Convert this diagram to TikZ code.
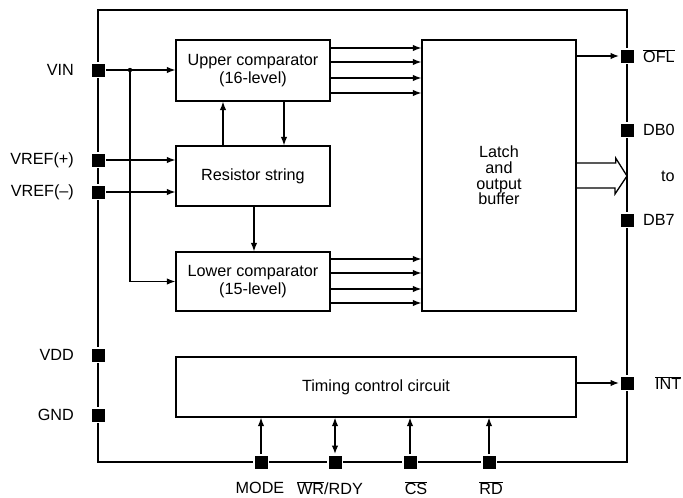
\documentclass[tikz,border=0pt]{standalone}
\usepackage{fontspec}
\setmainfont{Liberation Sans}
\usetikzlibrary{arrows.meta,calc}
\newcommand{\ovl}[1]{$\overline{\hbox{#1}}$}
\begin{document}
\begin{tikzpicture}[x=1pt,y=-1pt,
  every node/.style={font=\fontsize{16.2}{17.5}\selectfont},
  blk/.style={draw,line width=1.3pt,inner sep=0pt,align=center},
  pin/.style={rectangle,fill=black,draw=white,line width=1.5pt,minimum size=14.5pt,inner sep=0pt},
  arr/.style={line width=1.3pt,-{Latex[length=8.5pt,width=6.5pt]}},
  darr/.style={line width=1.3pt,{Latex[length=8.5pt,width=6.5pt]}-{Latex[length=8.5pt,width=6.5pt]}},
  frame/.style={line width=1.8pt},
  lab/.style={inner sep=0pt}]
\useasboundingbox (0,0) rectangle (683,498);
% outer frame
\coordinate (tl) at (98,10);
\coordinate (br) at (627,462);
\draw[frame] (tl) rectangle (br);
% blocks
\node[blk,minimum width=154pt,minimum height=61pt] (up) at (253,70.5) {Upper comparator\\(16-level)};
\node[blk,minimum width=154pt,minimum height=60pt] (res) at (253,176) {Resistor string};
\node[blk,minimum width=154pt,minimum height=59pt] (low) at (253,281.5) {Lower comparator\\(15-level)};
\node[blk,minimum width=154pt,minimum height=271pt,font=\fontsize{16.2}{15.8}\selectfont] (lat) at (499,175.5) {Latch\\and\\output\\buffer};
\node[blk,minimum width=400pt,minimum height=60pt] (tim) at (376,387) {Timing control circuit};
% pins
\node[pin] (vin) at (98,70) {};
\node[pin] (vrp) at (98,160) {};
\node[pin] (vrm) at (98,192) {};
\node[pin] (vdd) at (98,355) {};
\node[pin] (gnd) at (98,415) {};
\node[pin] (ofl) at (627,56) {};
\node[pin] (db0) at (627,130) {};
\node[pin] (db7) at (627,220) {};
\node[pin] (int) at (627,383) {};
\node[pin] (mode) at (261,462) {};
\node[pin] (wr) at (335,462) {};
\node[pin] (cs) at (410,462) {};
\node[pin] (rd) at (489,462) {};
% labels
\node[lab,anchor=east] at (74,70) {VIN};
\node[lab,anchor=east] at (74,160) {VREF(+)};
\node[lab,anchor=east] at (74,192) {VREF(--)};
\node[lab,anchor=east] at (74,355) {VDD};
\node[lab,anchor=east] at (74,415) {GND};
\node[lab,anchor=west] at (643,56) {\ovl{OFL}};
\node[lab,anchor=west] at (643,130) {DB0};
\node[lab,anchor=west] at (661,176) {to};
\node[lab,anchor=west] at (643,220) {DB7};
\node[lab,anchor=west] at (655,383) {\ovl{INT}};
\node[lab] at (260,488) {MODE};
\node[lab] at (330,488) {\ovl{WR}/RDY};
\node[lab] at (416,488) {\ovl{CS}};
\node[lab] at (491,488) {\ovl{RD}};
% inputs
\coordinate (j) at (130,70);
\draw[arr] (vin) -- (vin -| up.west);
\fill (j) circle (2.2pt);
\draw[arr] (j) |- (low.west);
\draw[arr] (vrp) -- (vrp -| res.west);
\draw[arr] (vrm) -- (vrm -| res.west);
% between blocks
\coordinate (xa) at (223,0);
\coordinate (xb) at (284,0);
\coordinate (xc) at (254,0);
\draw[arr] (xa |- res.north) -- (xa |- up.south);
\draw[arr] (xb |- up.south) -- (xb |- res.north);
\draw[arr] (xc |- res.south) -- (xc |- low.north);
\foreach \yy in {48,62,78,93,259,273,289,303}
  \draw[arr] (up.east |- 0,\yy) -- (lat.west |- 0,\yy);
% outputs
\draw[arr] (lat.east |- ofl) -- (ofl);
\draw[arr] (tim.east |- int) -- (int);
\draw[line width=1.3pt,line join=miter] ($(lat.east)+(0,-12.5)$) -- ++(39,0) -- ++(0,-5) -- (627,176) -- ++(-12,18) -- ++(0,-6) -- ($(lat.east)+(0,12.5)$);
% control inputs
\draw[arr] (mode) -- (mode |- tim.south);
\draw[darr] (wr) -- (wr |- tim.south);
\draw[arr] (cs) -- (cs |- tim.south);
\draw[arr] (rd) -- (rd |- tim.south);
\end{tikzpicture}
\end{document}
